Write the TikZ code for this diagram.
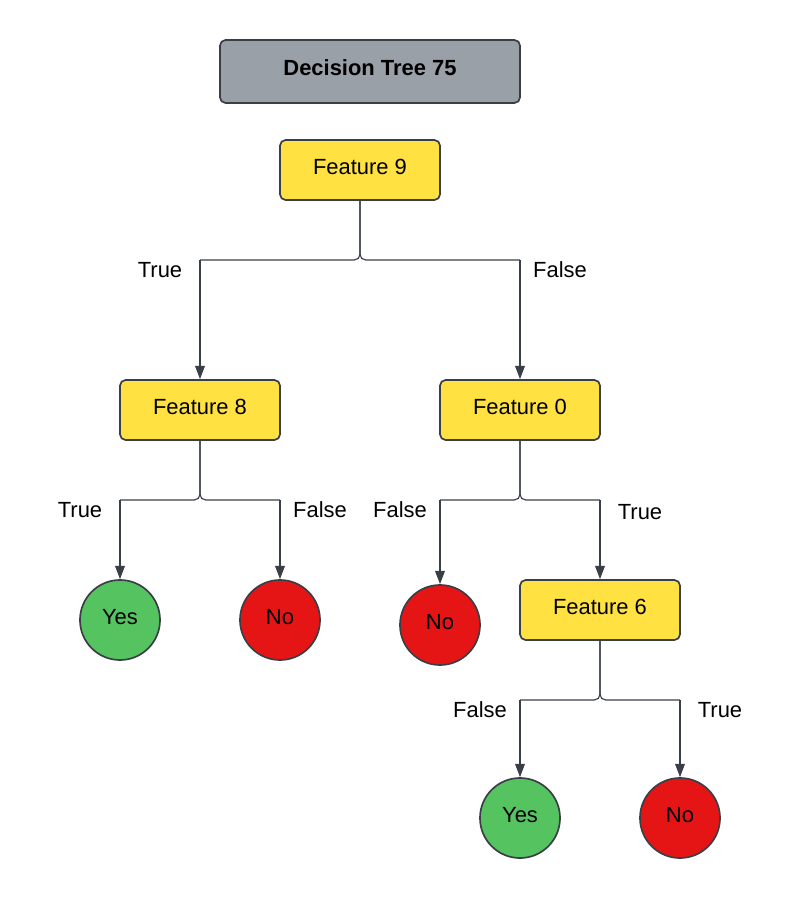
\documentclass[tikz,border=0pt]{standalone}
\usepackage{fontspec}
\setmainfont{Liberation Sans}
\usetikzlibrary{arrows.meta}

\definecolor{titlegray}{HTML}{9AA0A8}
\definecolor{edgegray}{HTML}{3A3F47}
\definecolor{featyellow}{HTML}{FFE142}
\definecolor{leafgreen}{HTML}{55C35F}
\definecolor{leafred}{HTML}{E61515}

\tikzset{
  titlebox/.style={draw=edgegray,line width=1.2pt,rounded corners=4pt,fill=titlegray,minimum width=7.5cm,minimum height=1.575cm,text height=0.72em,text depth=0.1em,font=\fontsize{15.6}{18}\selectfont\bfseries},
  featbox/.style={draw=edgegray,line width=1.2pt,rounded corners=4pt,fill=featyellow,minimum width=4cm,minimum height=1.5cm,text height=0.72em,text depth=0.1em,font=\fontsize{15.6}{18}\selectfont},
  leaf/.style={circle,draw=edgegray,line width=1.2pt,minimum size=2cm,inner sep=0pt,text height=0.72em,text depth=0.1em,font=\fontsize{15.6}{18}\selectfont},
  yesleaf/.style={leaf,fill=leafgreen},
  noleaf/.style={leaf,fill=leafred},
  branch/.style={font=\fontsize{15.6}{18}\selectfont},
  split/.style={draw=edgegray,line width=0.8pt,rounded corners=4pt},
  link/.style={draw=edgegray,line width=0.8pt,-{Triangle[length=9.5pt,width=7pt]}}
}

\begin{document}
\begin{tikzpicture}[x=0.025cm,y=-0.025cm]
\useasboundingbox (0,0) rectangle (800,899);

\node[titlebox] (title) at (370,71.5) {Decision Tree 75};

\node[featbox] (f9) at (360,170) {Feature 9};
\node[featbox] (f8) at (200,410) {Feature 8};
\node[featbox] (f0) at (520,410) {Feature 0};
\node[featbox] (f6) at (600,610) {Feature 6};

\node[yesleaf] (y1) at (120,620) {Yes};
\node[noleaf] (n1) at (280,620) {No};
\node[noleaf] (n2) at (440,625) {No};
\node[yesleaf] (y2) at (520,818) {Yes};
\node[noleaf] (n3) at (680,818) {No};

% split points
\coordinate (s9l) at (200,260);
\coordinate (s9r) at (520,260);
\coordinate (s8l) at (120,500);
\coordinate (s8r) at (280,500);
\coordinate (s0l) at (440,500);
\coordinate (s0r) at (600,500);
\coordinate (s6l) at (520,700);
\coordinate (s6r) at (680,700);

% rounded joints under each parent
\draw[split] (f9.south) |- (s9l);
\draw[split] (f9.south) |- (s9r);
\draw[split] (f8.south) |- (s8l);
\draw[split] (f8.south) |- (s8r);
\draw[split] (f0.south) |- (s0l);
\draw[split] (f0.south) |- (s0r);
\draw[split] (f6.south) |- (s6l);
\draw[split] (f6.south) |- (s6r);

% drops to children
\draw[link] (s9l) -- (f8.north);
\draw[link] (s9r) -- (f0.north);
\draw[link] (s8l) -- (y1.north);
\draw[link] (s8r) -- (n1.north);
\draw[link] (s0l) -- (n2.north);
\draw[link] (s0r) -- (f6.north);
\draw[link] (s6l) -- (y2.north);
\draw[link] (s6r) -- (n3.north);

\node[branch] (t9) at (160,270) {True};
\node[branch] (e9) at (560,270) {False};
\node[branch] (t8) at (80,510) {True};
\node[branch] (e8) at (320,510) {False};
\node[branch] (e0) at (400,510) {False};
\node[branch] (t0) at (640,512) {True};
\node[branch] (e6) at (480,710) {False};
\node[branch] (t6) at (720,710) {True};
\end{tikzpicture}
\end{document}
